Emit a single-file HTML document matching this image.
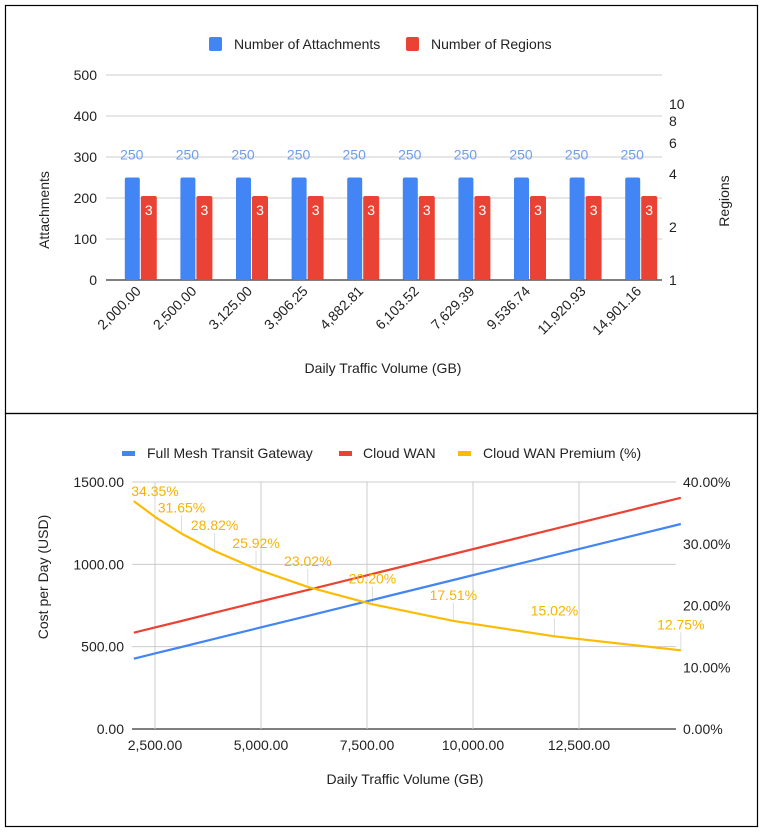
<!DOCTYPE html>
<html><head><meta charset="utf-8"><style>
html,body{margin:0;padding:0;background:#fff;width:763px;height:834px;overflow:hidden}
svg{display:block;font-family:"Liberation Sans",Arial,sans-serif}
</style></head><body>
<svg id="c" width="763" height="834"></svg>
<script>
const categories=["2,000.00","2,500.00","3,125.00","3,906.25","4,882.81","6,103.52","7,629.39","9,536.74","11,920.93","14,901.16"];
const attachments=[250,250,250,250,250,250,250,250,250,250];
const regions=[3,3,3,3,3,3,3,3,3,3];
const leftTicks1=[0,100,200,300,400,500];
const rightTicks1=[1,2,4,6,8,10];
const volumes=[2000,2500,3125,3906.25,4882.81,6103.52,7629.39,9536.74,11920.93,14901.16];
const tgwCost=[427,459,498,548,610,687,784,905,1056,1245];
const wanCost=[585,617,656,706,768,845,942,1063,1215,1404];
const premium=[36.9,34.35,31.65,28.82,25.92,23.02,20.20,17.51,15.02,12.75];
const premiumLabels=["","34.35%","31.65%","28.82%","25.92%","23.02%","20.20%","17.51%","15.02%","12.75%"];
const leftTicks2=[0,500,1000,1500];
const rightTicks2=[0,10,20,30,40];
const xTicks2=[2500,5000,7500,10000,12500];

const svg=document.getElementById('c');const NS='http://www.w3.org/2000/svg';
function el(t,a,txt){const e=document.createElementNS(NS,t);for(const k in a)e.setAttribute(k,a[k]);if(txt!==undefined)e.textContent=txt;svg.appendChild(e);return e;}
// frames
let f=el('rect',{x:5.5,y:5.5,width:752,height:408,fill:'none',stroke:'#000','stroke-width':1.2});

f=el('rect',{x:5.5,y:413.5,width:752,height:413,fill:'none',stroke:'#000','stroke-width':1.2});


// ===== Chart 1 =====
const X0=106,X1=662,Y0=280,Y1=75;
const y1=v=>Y0-(v/500)*(Y0-Y1);
const yr=v=>Y0-Math.log2(v)*53;
const band=(X1-X0)/categories.length;
leftTicks1.forEach(t=>{
 let g=el('line',{x1:X0,x2:X1,y1:y1(t),y2:y1(t),stroke:t===0?'#333':'#ccc','stroke-width':t===0?1.3:1});
 
 let l=el('text',{x:97,y:y1(t)+5,'text-anchor':'end','font-size':14,fill:'#222'},t);
 
});
rightTicks1.forEach(t=>{
 let l=el('text',{x:669,y:yr(t)+5,'font-size':14,fill:'#222'},t);
 
});
categories.forEach((c,i)=>{
 const cx=X0+band*(i+0.5);
 let b=el('rect',{x:cx-9,y:y1(attachments[i]),width:15,height:Y0-y1(attachments[i]),fill:'#4285f4',rx:2});
 
 let r=el('rect',{x:cx+7,y:yr(regions[i]),width:16,height:Y0-yr(regions[i]),fill:'#ea4335',rx:2});
 
 let t=el('text',{x:cx-2,y:y1(attachments[i])-18,'text-anchor':'middle','font-size':14,fill:'#6d9eeb'},attachments[i]);
 
 let t2=el('text',{x:cx+15,y:yr(regions[i])+19,'text-anchor':'middle','font-size':14,fill:'#fff'},regions[i]);
 
 let xl=el('text',{x:cx+8,y:292,'text-anchor':'end','font-size':14,fill:'#222',transform:`rotate(-45 ${cx+8} 292)`},c);
 
});
let tt=el('text',{x:383,y:373,'text-anchor':'middle','font-size':14,fill:'#222'},'Daily Traffic Volume (GB)');

tt=el('text',{x:49,y:210,'text-anchor':'middle','font-size':14,fill:'#222',transform:'rotate(-90 49 210)'},'Attachments');

tt=el('text',{x:729,y:201,'text-anchor':'middle','font-size':14,fill:'#222',transform:'rotate(-90 729 201)'},'Regions');

let lg=el('rect',{x:209,y:37,width:13,height:14,fill:'#4285f4',rx:2});

lg=el('text',{x:234,y:49,'font-size':14,fill:'#222'},'Number of Attachments');

lg=el('rect',{x:406,y:37,width:13,height:14,fill:'#ea4335',rx:2});

lg=el('text',{x:431,y:49,'font-size':14,fill:'#222'},'Number of Regions');


// ===== Chart 2 =====
const PX0=132,PX1=676,PY0=729,PY1=482;
const xs=v=>155+(v-2500)*(106/2500);
const yc=v=>PY0-(v/1500)*(PY0-PY1);
const yp=v=>PY0-(v/40)*(PY0-PY1);
leftTicks2.forEach(t=>{
 let g=el('line',{x1:PX0,x2:PX1,y1:yc(t),y2:yc(t),stroke:t===0?'#333':'#ccc','stroke-width':t===0?1.3:1});
 
 let l=el('text',{x:124,y:yc(t)+5,'text-anchor':'end','font-size':14,fill:'#222'},t.toFixed(2));
 
});
rightTicks2.forEach(t=>{
 let l=el('text',{x:683,y:yp(t)+5,'font-size':14,fill:'#222'},t.toFixed(2)+'%');
 
});
xTicks2.forEach(t=>{
 let g=el('line',{x1:xs(t),x2:xs(t),y1:PY1,y2:PY0,stroke:'#ccc','stroke-width':1});
 
 let l=el('text',{x:xs(t),y:750,'text-anchor':'middle','font-size':14,fill:'#222'},t.toLocaleString('en-US',{minimumFractionDigits:2}));
 
});
// leader lines + labels
volumes.forEach((v,i)=>{
 if(!premiumLabels[i])return;
 const px=xs(v),py=yp(premium[i]);
 let ln=el('line',{x1:px,x2:px,y1:py-18,y2:py,stroke:'#ddd','stroke-width':1});
 
});
function path(vals,fn,color,name){
 const d=volumes.map((v,i)=>(i?'L':'M')+xs(v).toFixed(1)+' '+fn(vals[i]).toFixed(1)).join(' ');
 let p=el('path',{d:d,fill:'none',stroke:color,'stroke-width':2.2,'stroke-linejoin':'round'});
 
}
path(tgwCost,yc,'#4285f4','line-full-mesh-tgw');
path(wanCost,yc,'#ea4335','line-cloud-wan');
path(premium,yp,'#fbbc04','line-cloud-wan-premium');
volumes.forEach((v,i)=>{
 if(!premiumLabels[i])return;
 let t=el('text',{x:xs(v),y:yp(premium[i])-21,'text-anchor':'middle','font-size':14,fill:'#f6b400'},premiumLabels[i]);
 
});
tt=el('text',{x:405,y:784,'text-anchor':'middle','font-size':14,fill:'#222'},'Daily Traffic Volume (GB)');

tt=el('text',{x:48,y:577,'text-anchor':'middle','font-size':14,fill:'#222',transform:'rotate(-90 48 577)'},'Cost per Day (USD)');

[['#4285f4',122,147,'Full Mesh Transit Gateway','legend-full-mesh-tgw'],['#ea4335',339,363,'Cloud WAN','legend-cloud-wan'],['#fbbc04',458,483,'Cloud WAN Premium (%)','legend-cloud-wan-premium']].forEach(a=>{
 let s=el('rect',{x:a[1],y:451,width:13,height:5,fill:a[0]});
 
 let t=el('text',{x:a[2],y:458,'font-size':14,fill:'#222'},a[3]);
 
});
</script>
</body></html>
